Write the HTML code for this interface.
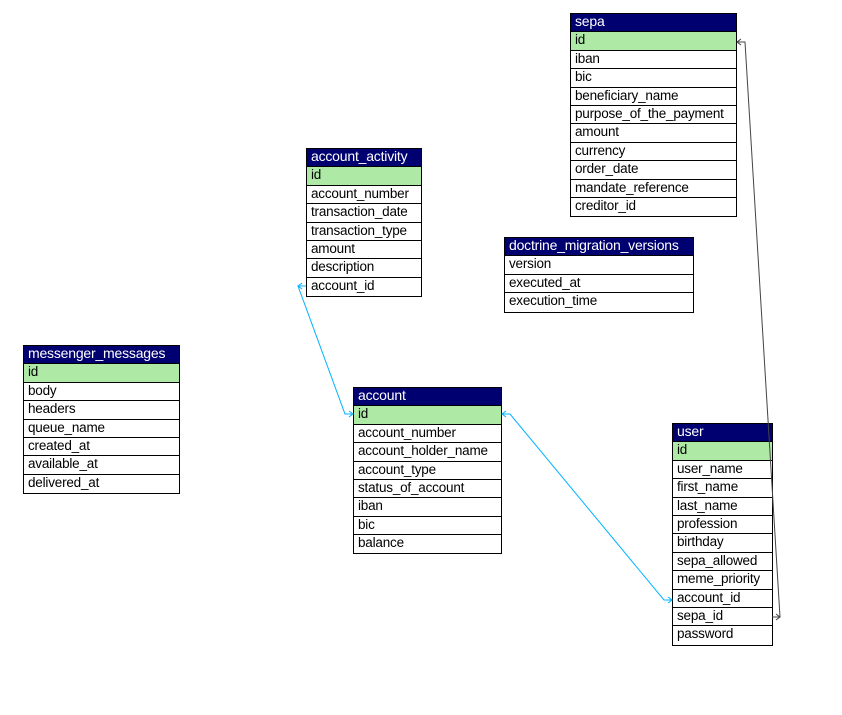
<!DOCTYPE html>
<html><head><meta charset="utf-8">
<style>
html,body{margin:0;padding:0;background:#fff;width:842px;height:715px;overflow:hidden;position:relative}
.t{position:absolute;outline:1px solid #000;outline-offset:-1px;box-sizing:border-box;font-family:"Liberation Sans",Arial,sans-serif;font-size:13.5px;letter-spacing:-0.2px;color:#000;background:#fff}
.t div{box-sizing:border-box;border-top:1px solid #000;border-left:1px solid #000;border-right:1px solid #000;padding-left:4px;white-space:nowrap;overflow:visible;line-height:15px;height:18.4px}
.t div.h{background:#000070;color:#fff;border-top:none;font-size:14px;line-height:17px}
.t div.k{background:#aeeaa6}
svg{position:absolute;left:0;top:0}
</style></head><body>

<div class="t" style="left:570px;top:13px;width:167px;height:204px">
<div class="h">sepa</div>
<div class="k">id</div>
<div>iban</div>
<div>bic</div>
<div>beneficiary_name</div>
<div>purpose_of_the_payment</div>
<div>amount</div>
<div>currency</div>
<div>order_date</div>
<div>mandate_reference</div>
<div>creditor_id</div>
</div>

<div class="t" style="left:306px;top:148px;width:116px;height:149px">
<div class="h">account_activity</div>
<div class="k">id</div>
<div>account_number</div>
<div>transaction_date</div>
<div>transaction_type</div>
<div>amount</div>
<div>description</div>
<div>account_id</div>
</div>

<div class="t" style="left:504px;top:237px;width:190px;height:76px">
<div class="h">doctrine_migration_versions</div>
<div>version</div>
<div>executed_at</div>
<div>execution_time</div>
</div>

<div class="t" style="left:23px;top:345px;width:157px;height:149px">
<div class="h">messenger_messages</div>
<div class="k">id</div>
<div>body</div>
<div>headers</div>
<div>queue_name</div>
<div>created_at</div>
<div>available_at</div>
<div>delivered_at</div>
</div>

<div class="t" style="left:353px;top:387px;width:149px;height:167px">
<div class="h">account</div>
<div class="k">id</div>
<div>account_number</div>
<div>account_holder_name</div>
<div>account_type</div>
<div>status_of_account</div>
<div>iban</div>
<div>bic</div>
<div>balance</div>
</div>

<div class="t" style="left:672px;top:423px;width:101px;height:223px">
<div class="h">user</div>
<div class="k">id</div>
<div>user_name</div>
<div>first_name</div>
<div>last_name</div>
<div>profession</div>
<div>birthday</div>
<div>sepa_allowed</div>
<div>meme_priority</div>
<div>account_id</div>
<div>sepa_id</div>
<div>password</div>
</div>

<svg width="842" height="715" viewBox="0 0 842 715">
<g fill="none" stroke-width="1">
<polyline points="306,286 298,286 345,414 353,414" stroke="#00b4ff"/>
<polyline points="302,283 298,286 302,289" stroke="#00b4ff"/>
<polyline points="349,411 353,414 349,417" stroke="#00b4ff"/>
<polyline points="502,414 510,414 664,600 672,600" stroke="#00b4ff"/>
<polyline points="506,411 502,414 506,417" stroke="#00b4ff"/>
<polyline points="668,597 672,600 668,603" stroke="#00b4ff"/>
<polyline points="737,42 745,42 780,617 772,617" stroke="#444"/>
<polyline points="741,39 737,42 741,45" stroke="#444"/>
<polyline points="776,614 780,617 776,620" stroke="#444"/>
</g>
</svg>
</body></html>
